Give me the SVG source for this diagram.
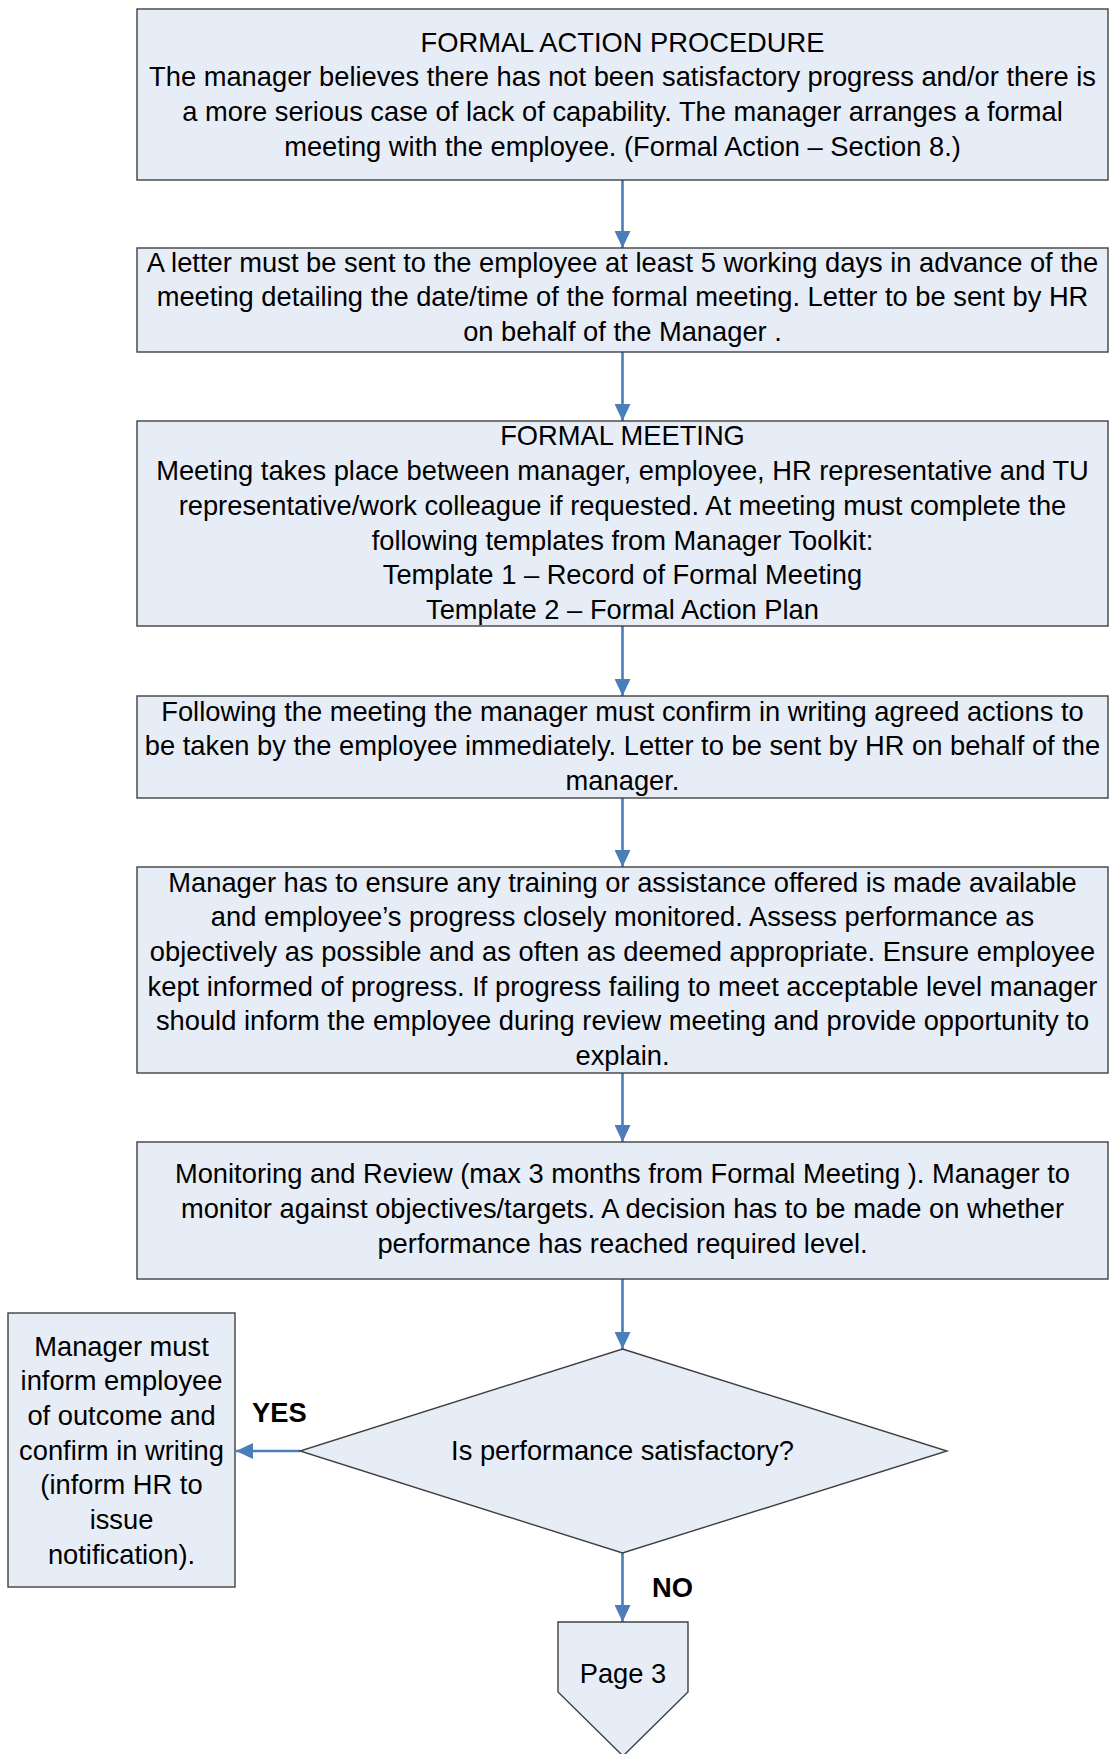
<svg xmlns="http://www.w3.org/2000/svg" width="1109" height="1754" viewBox="0 0 1109 1754">
<style>
.box{fill:#E7EDF7;stroke:#404040;stroke-width:1.4}
.t{font-family:"Liberation Sans",Arial,sans-serif;font-size:27.3px;fill:#000;text-anchor:middle}
.lbl{font-family:"Liberation Sans",Arial,sans-serif;font-size:27.3px;font-weight:bold;fill:#000}
.con{stroke:#4A7EBB;stroke-width:2.6;fill:none}
</style>
<defs>
<marker id="ah" markerUnits="userSpaceOnUse" markerWidth="18" markerHeight="16" refX="17" refY="8" orient="auto">
<path d="M0,0 L17,8 L0,16 Z" fill="#4A7EBB"/>
</marker>
</defs>
<rect width="1109" height="1754" fill="#FFFFFF"/>
<g id="connectors">
<line class="con" x1="622.5" y1="180" x2="622.5" y2="248" marker-end="url(#ah)"/>
<line class="con" x1="622.5" y1="352" x2="622.5" y2="421" marker-end="url(#ah)"/>
<line class="con" x1="622.5" y1="626" x2="622.5" y2="696" marker-end="url(#ah)"/>
<line class="con" x1="622.5" y1="798" x2="622.5" y2="867" marker-end="url(#ah)"/>
<line class="con" x1="622.5" y1="1073" x2="622.5" y2="1142" marker-end="url(#ah)"/>
<line class="con" x1="622.5" y1="1279" x2="622.5" y2="1349" marker-end="url(#ah)"/>
<line class="con" x1="622.5" y1="1553" x2="622.5" y2="1622" marker-end="url(#ah)"/>
<line class="con" x1="300" y1="1451" x2="236" y2="1451" marker-end="url(#ah)"/>
<text class="lbl" x="252" y="1422">YES</text>
<text class="lbl" x="652" y="1597">NO</text>
</g>
<g id="n1">
<rect class="box" x="137" y="9" width="971" height="171"/>
<text class="t" x="622.5" y="51.7">FORMAL ACTION PROCEDURE</text>
<text class="t" x="622.5" y="86.4">The manager believes there has not been satisfactory progress and/or there is</text>
<text class="t" x="622.5" y="121.1">a more serious case of lack of capability. The manager arranges a formal</text>
<text class="t" x="622.5" y="155.8">meeting with the employee. (Formal Action – Section 8.)</text>
</g>
<g id="n2">
<rect class="box" x="137" y="248" width="971" height="104"/>
<text class="t" x="622.5" y="271.7">A letter must be sent to the employee at least 5 working days in advance of the</text>
<text class="t" x="622.5" y="306.4">meeting detailing the date/time of the formal meeting. Letter to be sent by HR</text>
<text class="t" x="622.5" y="341.1">on behalf of the Manager .</text>
</g>
<g id="n3">
<rect class="box" x="137" y="421" width="971" height="205"/>
<text class="t" x="622.5" y="445.4">FORMAL MEETING</text>
<text class="t" x="622.5" y="480.1">Meeting takes place between manager, employee, HR representative and TU</text>
<text class="t" x="622.5" y="514.8">representative/work colleague if requested. At meeting must complete the</text>
<text class="t" x="622.5" y="549.5">following templates from Manager Toolkit:</text>
<text class="t" x="622.5" y="584.2">Template 1 – Record of Formal Meeting</text>
<text class="t" x="622.5" y="618.9">Template 2 – Formal Action Plan</text>
</g>
<g id="n4">
<rect class="box" x="137" y="696" width="971" height="102"/>
<text class="t" x="622.5" y="720.5">Following the meeting the manager must confirm in writing agreed actions to</text>
<text class="t" x="622.5" y="755.2">be taken by the employee immediately. Letter to be sent by HR on behalf of the</text>
<text class="t" x="622.5" y="789.9">manager.</text>
</g>
<g id="n5">
<rect class="box" x="137" y="867" width="971" height="206"/>
<text class="t" x="622.5" y="891.5">Manager has to ensure any training or assistance offered is made available</text>
<text class="t" x="622.5" y="926.2">and employee’s progress closely monitored. Assess performance as</text>
<text class="t" x="622.5" y="960.9">objectively as possible and as often as deemed appropriate. Ensure employee</text>
<text class="t" x="622.5" y="995.6">kept informed of progress. If progress failing to meet acceptable level manager</text>
<text class="t" x="622.5" y="1030.3">should inform the employee during review meeting and provide opportunity to</text>
<text class="t" x="622.5" y="1065">explain.</text>
</g>
<g id="n6">
<rect class="box" x="137" y="1142" width="971" height="137"/>
<text class="t" x="622.5" y="1183.3">Monitoring and Review (max 3 months from Formal Meeting ). Manager to</text>
<text class="t" x="622.5" y="1218">monitor against objectives/targets. A decision has to be made on whether</text>
<text class="t" x="622.5" y="1252.7">performance has reached required level.</text>
</g>
<g id="decision">
<polygon class="box" points="622.5,1349 947,1451 622.5,1553 300,1451"/>
<text class="t" x="622.5" y="1460">Is performance satisfactory?</text>
</g>
<g id="yes-box">
<rect class="box" x="8" y="1313" width="227" height="274"/>
<text class="t" x="121.5" y="1355.5">Manager must</text>
<text class="t" x="121.5" y="1390.2">inform employee</text>
<text class="t" x="121.5" y="1424.9">of outcome and</text>
<text class="t" x="121.5" y="1459.6">confirm in writing</text>
<text class="t" x="121.5" y="1494.3">(inform HR to</text>
<text class="t" x="121.5" y="1529">issue</text>
<text class="t" x="121.5" y="1563.7">notification).</text>
</g>
<g id="page3">
<polygon class="box" points="558,1622 688,1622 688,1692 623,1756 558,1692"/>
<text class="t" x="623" y="1683">Page 3</text>
</g>
</svg>
